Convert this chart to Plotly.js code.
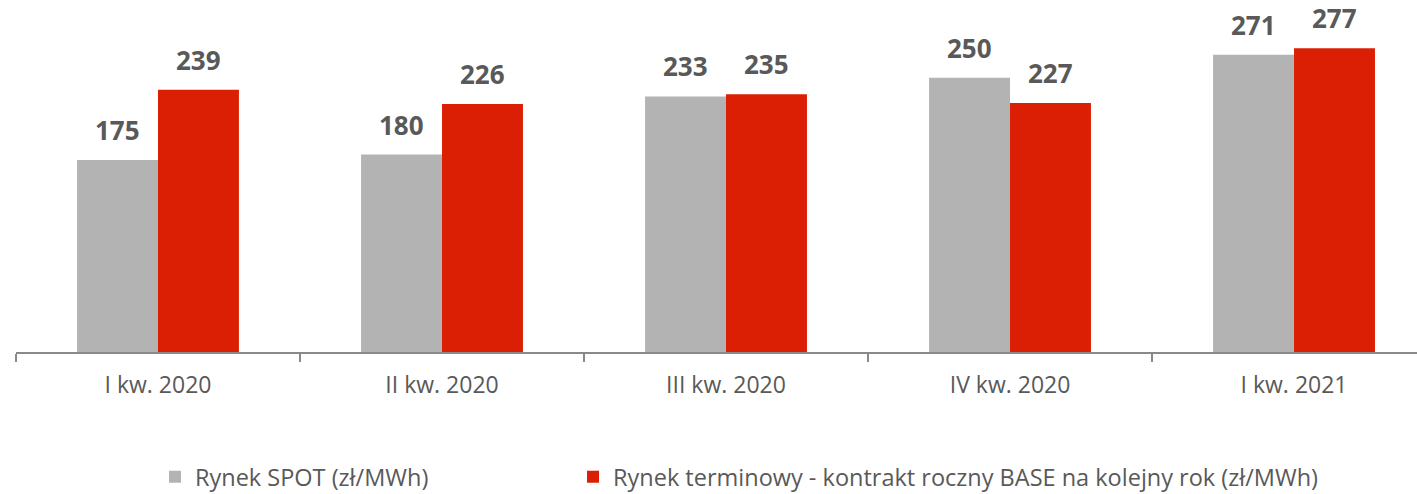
<!DOCTYPE html>
<html>
<head>
<meta charset="utf-8">
<script src="https://cdn.plot.ly/plotly-3.0.1.min.js"></script>
<style>html,body{margin:0;padding:0;background:#fff;}#chart{width:1417px;height:494px;}</style>
</head>
<body>
<div id="chart"></div>
<script>
const categories = ["I kw. 2020", "II kw. 2020", "III kw. 2020", "IV kw. 2020", "I kw. 2021"];
const spotValues = [175, 180, 233, 250, 271];
const terminValues = [239, 226, 235, 227, 277];
const seriesNames = ["Rynek SPOT (zł/MWh)", "Rynek terminowy - kontrakt roczny BASE na kolejny rok (zł/MWh)"];
const colors = ["#B3B3B3", "#DA1F05"];

const FONT = "Open Sans, sans-serif";
const TEXTC = "#595959";

const traces = [
  {type: "bar", name: seriesNames[0], x: categories, y: spotValues, marker: {color: colors[0]}, hoverinfo: "none", legend: "legend"},
  {type: "bar", name: seriesNames[1], x: categories, y: terminValues, marker: {color: colors[1]}, hoverinfo: "none", legend: "legend2"}
];

const offsets = [-0.5, 0.5];
const annotations = [];
[spotValues, terminValues].forEach((vals, s) => {
  vals.forEach((v, i) => {
    annotations.push({
      x: i, xref: "x", y: v, yref: "y",
      xshift: offsets[s] * 81,
      yanchor: "bottom", yshift: 10,
      text: "<b>" + v + "</b>", showarrow: false,
      font: {family: FONT, size: 26, color: TEXTC}
    });
  });
});

const legendFont = {family: FONT, size: 23.5, color: TEXTC};
const layout = {
  width: 1417, height: 494,
  margin: {l: 16, r: 0, t: 0, b: 142, autoexpand: false},
  paper_bgcolor: "#fff", plot_bgcolor: "#fff",
  barmode: "group", bargap: 0.43, bargroupgap: 0,
  showlegend: true,
  legend: {orientation: "h", x: 0.0992, xanchor: "left", y: -0.4175, yanchor: "bottom", font: legendFont},
  legend2: {orientation: "h", x: 0.3976, xanchor: "left", y: -0.4175, yanchor: "bottom", font: legendFont},
  xaxis: {
    type: "category", range: [-0.5, 4.433],
    showline: true, linecolor: "#898989", linewidth: 1.5,
    ticks: "outside", tickson: "boundaries", ticklen: 8, tickcolor: "#898989", tickwidth: 1.5,
    ticklabelstandoff: 12,
    tickfont: {family: FONT, size: 23, color: TEXTC},
    showgrid: false, zeroline: false
  },
  yaxis: {range: [0, 320.9], visible: false, showgrid: false, zeroline: false},
  annotations: annotations
};

Plotly.newPlot("chart", traces, layout, {staticPlot: true});
</script>
</body>
</html>
